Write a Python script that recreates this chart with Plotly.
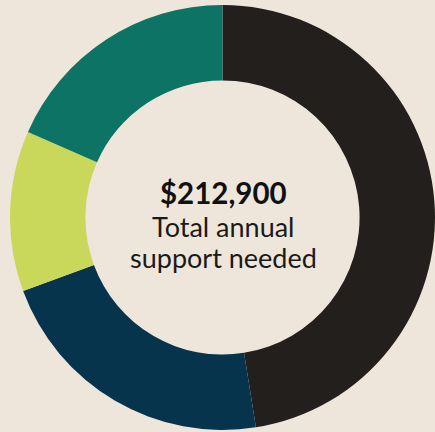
import plotly.graph_objects as go

categories = ["Category A", "Category B", "Category C", "Category D"]
values = [101100, 46600, 26000, 39200]
colors = ["#221F1D", "#06344D", "#C9D75B", "#0C7365"]
total_label = "$212,900"
sub_lines = ["Total annual", "support needed"]

BG = "#EEE6DB"
W, H = 435, 432
ML, MR, MT, MB = 10, 0, 4, 1
ph = H - MT - MB

def py(ypx):
    return 1 - (ypx - MT) / ph

def px(xpx):
    return (xpx - ML) / (W - ML - MR)

fig = go.Figure(go.Pie(
    labels=categories,
    values=values,
    marker=dict(colors=colors, line=dict(width=0)),
    hole=0.645,
    sort=False,
    direction="clockwise",
    rotation=0,
    textinfo="none",
    hoverinfo="label+value",
    showlegend=False,
))

cx = px(223.5)
fig.add_annotation(x=cx, y=py(192), xref="paper", yref="paper",
                   text="<b>" + total_label + "</b>", showarrow=False,
                   xanchor="center", yanchor="middle",
                   font=dict(family="Lato", size=29.5, color="#111111"))
fig.add_annotation(x=cx, y=py(226), xref="paper", yref="paper",
                   text=sub_lines[0], showarrow=False,
                   xanchor="center", yanchor="middle",
                   font=dict(family="Lato", size=27, color="#1a1a1a"))
fig.add_annotation(x=cx, y=py(257), xref="paper", yref="paper",
                   text=sub_lines[1], showarrow=False,
                   xanchor="center", yanchor="middle",
                   font=dict(family="Lato", size=27, color="#1a1a1a"))

fig.update_layout(
    width=W, height=H,
    margin=dict(l=ML, r=MR, t=MT, b=MB, pad=0),
    paper_bgcolor=BG, plot_bgcolor=BG,
)
fig.write_html(
    "out.html",
    config={"displayModeBar": False},
    post_script="document.body.style.margin='0';document.body.style.overflow='hidden';document.body.style.background='" + BG + "';",
)
